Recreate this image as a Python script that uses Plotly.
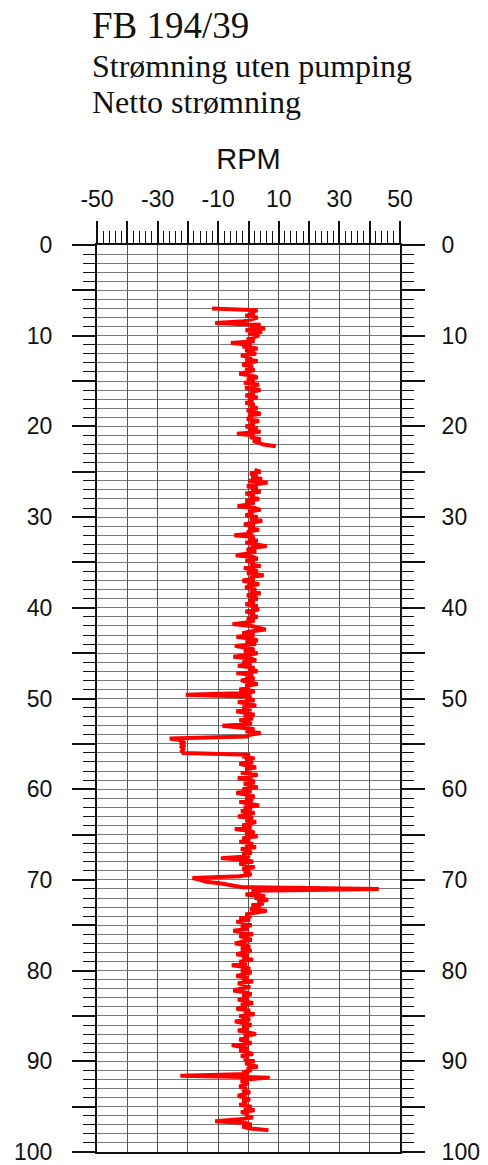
import numpy as np
import plotly.graph_objects as go

# ---------------- data ----------------
title_lines = ["FB 194/39", "Strømning uten pumping", "Netto strømning"]
x_title = "RPM"
x_range = [-50, 50]
x_major_ticks = [-50, -40, -30, -20, -10, 0, 10, 20, 30, 40, 50]
x_label_values = [-50, -30, -10, 10, 30, 50]
depth_range = [100, 0]
depth_major_ticks = [0, 5, 10, 15, 20, 25, 30, 35, 40, 45, 50, 55, 60, 65, 70, 75, 80, 85, 90, 95, 100]
depth_label_values = [0, 10, 20, 30, 40, 50, 60, 70, 80, 90, 100]

sample_step = 0.2          # depth interval between readings (m)
seg1_start_depth = 7.0     # first logged interval
seg2_start_depth = 24.8    # second logged interval

rpm_seg1 = [
    -12, 3, 0.5, 2, -1, 3, 1, -1.5, -11, 4,
    0.5, 5.5, -1, 4.5, 0, 3.5, 1.5, -0.5, 2, -5.8,
    1, -2, 3, -1, 0.5, 2.5, -2.5, 1, -1, 3,
    -0.5, -2, 1.5, -1, 2, 0, -3, 1, 3, -0.5,
    2, -1.5, 3.5, 0, -1, 4, 0.5, 2, -1, 3,
    0, 1.5, -1, 2, 0.5, 3, -0.5, 1, 4, 0,
    1, -0.5, 3.5, 0.5, 2, -1, 3, 0, 4, -3.8,
    2, 0.5, 4, 1.5, 3, 5, 9,
]

rpm_seg2 = [
    2, 4, 0.5, 3, 1,            # 24.8
    4.5, 0, 6.3, 2, -0.5,       # 25.8
    3, 1, 4, -1, 2,             # 26.8
    0.5, 3.5, -1, 2, 0,         # 27.8
    -3.6, 2, 4, 0, 1.5,         # 28.8
    -1, 3, 0.5, 4.5, 1,         # 29.8
    -1.5, 2, 0, 3.5, -0.5,      # 30.8
    1.5, -4.7, 2, 0, 3,         # 31.8
    -1, 2, 6, 1, -0.5,          # 32.8
    2.5, 0, -4.2, 1.5, 3,       # 33.8
    -1, 2, 0.5, 4, -1.5,        # 34.8
    1, 3, -0.5, 5, 0.5,         # 35.8
    2, -2, 1, 3.5, 0,           # 36.8
    -1, 2.5, 0.5, 4, -0.5,      # 37.8
    1.5, 3, 0, 2, -1,           # 38.8
    3, 1, 3.5, -1, 2,           # 39.8
    0.5, 3, -0.5, 2, 0,         # 40.8
    -5.3, 1, 3, 5.7, 0.5,       # 41.8
    -2, 2, -4, 1, 3,            # 42.8
    -1, 2.5, -4.5, 0, 2,        # 43.8
    -1.5, 3, 0, -5, 1,          # 44.8
    2.5, -2, 1, -3.5, 2,        # 45.8
    0, 3, -4, 1.5, -1,          # 46.8
    2, -2.5, 1, 3, -1,          # 47.8
    0.5, -3, 2, 0, -20.7,       # 48.8
    1, -1, 2, -3.5, 0.5,        # 49.8
    2.5, -2, 1, -4, 0,          # 50.8
    2, -1.5, 1.5, -3, 0,        # 51.8
    1, -8.6, -3, 2, -1,         # 52.8
    4, 0.5, -0.5, -26, -22,     # 53.8
    -21.5, -22.5, -21, -22, -21.5,  # 54.8
    -22, -21.5, 0.5, -2, 2,     # 55.8
    -1, 1.5, -3, 0.5, 2.5,      # 56.8
    -1, 1, -2.5, 3, 0,          # 57.8
    -3.5, 1, 2, -1.5, 0.5,      # 58.8
    3, -2, 1, -4, 0,            # 59.8
    2, -1, 1.5, -3, 0.5,        # 60.8
    3.5, -1.5, 1, -2.5, 2,      # 61.8
    0, -3.5, 1.5, -1, 2.5,      # 62.8
    0, -2, 1, -4.5, 0.5,        # 63.8
    2, -1, 3, -2, 0.5,          # 64.8
    -3, 1.5, -1, 2.5, -2.5,     # 65.8
    0, 1, -2, 0.5, -9.1,        # 66.8
    -1, 1.5, -3, 0, 2,          # 67.8
    -2, 0.5, -1.5, 1, -3,       # 68.8
    -18.5, -16, -14, -9, -5,    # 69.8
    -2, 43, 1, 4, -1,           # 70.8
    5.5, 2, 6.5, 3, 5,          # 71.8
    1, 4, 0.5, 6, 2,            # 72.8
    -1, 1, -3, 0.5, -4,         # 73.8
    -1, 1, -2.5, 0, -5,         # 74.8
    -1.5, 1.5, -3, -0.5, 1,     # 75.8
    -2, -4.5, -1, 0.5, -2.5,    # 76.8
    1, -1.5, -4, 0, -2,         # 77.8
    1.5, -3, -0.5, -5.5, -1,    # 78.8
    0.5, -2.5, 1, -1.5, -4,     # 79.8
    0, -2, 1.5, -3.5, -1,       # 80.8
    0.5, -2.5, -5, -1, 1,       # 81.8
    -2, 0, -3.5, -1, 1.5,       # 82.8
    -2.5, -0.5, -4, 0.5, -1.5,  # 83.8
    2, -3, -1, 0.5, -4.5,       # 84.8
    -1, 1, -2, 0, -3.5,         # 85.8
    -0.5, 2.5, -1.5, 0, -3,     # 86.8
    -1, 1, -5.5, -2, 0,         # 87.8
    -3, -1, 1.5, -2.5, 0,       # 88.8
    -1.5, 2, -1, 0.5, 3,        # 89.8
    -0.5, 1, -2, 0, -22.5,      # 90.8
    7, -1, -2.5, 0, -1.5,       # 91.8
    -3, -0.5, -2, 0.5, -1,      # 92.8
    -3.5, -1, 0.5, -2, -0.5,    # 93.8
    -3, 1, -1.5, 2, -2.5,       # 94.8
    0, -1, 1.5, -3, -11,        # 95.8
    -1, 1, -2, 0.5, 6.6,        # 96.8
]

depth_seg1 = np.round(seg1_start_depth + sample_step * np.arange(len(rpm_seg1)), 2)
depth_seg2 = np.round(seg2_start_depth + sample_step * np.arange(len(rpm_seg2)), 2)

# ---------------- figure ----------------
W, H = 488, 1165
L, R, T, B = 97, 88, 245, 13

fig = go.Figure()
line_style = dict(color="#FF0000", width=4)
fig.add_trace(go.Scatter(x=rpm_seg1, y=depth_seg1, mode="lines", line=line_style,
                         showlegend=False, hoverinfo="x+y"))
fig.add_trace(go.Scatter(x=rpm_seg2, y=depth_seg2, mode="lines", line=line_style,
                         showlegend=False, hoverinfo="x+y"))
# invisible trace to carry the right-hand depth axis
fig.add_trace(go.Scatter(x=[None], y=[None], yaxis="y2", showlegend=False,
                         hoverinfo="skip"))

tick_font = dict(family="Liberation Sans, Arial, sans-serif", size=23, color="#111111")

x_ticktext = [str(v) if v in x_label_values else "" for v in x_major_ticks]
y_ticktext = [str(v) if v in depth_label_values else "" for v in depth_major_ticks]

yaxis_common = dict(
    range=depth_range,
    tickmode="array",
    tickvals=depth_major_ticks,
    ticktext=y_ticktext,
    ticks="outside",
    ticklen=23,
    tickwidth=1.6,
    tickcolor="#111111",
    showline=True,
    linecolor="#111111",
    linewidth=2,
    tickfont=tick_font,
    ticklabeloverflow="allow",
    zeroline=False,
    automargin=False,
    fixedrange=True,
)

fig.update_layout(
    width=W,
    height=H,
    margin=dict(l=L, r=R, t=T, b=B, pad=0),
    paper_bgcolor="white",
    plot_bgcolor="white",
    xaxis=dict(
        side="top",
        range=x_range,
        tickmode="array",
        tickvals=x_major_ticks,
        ticktext=x_ticktext,
        ticks="outside",
        ticklen=22,
        tickwidth=1.6,
        tickcolor="#111111",
        ticklabelstandoff=5,
        minor=dict(dtick=2, tick0=-50, ticks="outside", ticklen=12,
                   tickwidth=1.3, tickcolor="#111111", showgrid=False),
        showgrid=True,
        gridcolor="#555555",
        gridwidth=1,
        showline=True,
        mirror=True,
        linecolor="#111111",
        linewidth=2,
        zeroline=False,
        tickfont=tick_font,
        ticklabeloverflow="allow",
        title=dict(text=x_title, standoff=8,
                   font=dict(family="Liberation Sans, Arial, sans-serif", size=29,
                             color="#111111")),
        automargin=False,
        fixedrange=True,
    ),
    yaxis=dict(
        side="left",
        ticklabelstandoff=15,
        showgrid=True,
        gridcolor="#7a7a7a",
        gridwidth=1,
        minor=dict(dtick=1, tick0=0, ticks="outside", ticklen=12,
                   tickwidth=1.3, tickcolor="#111111", showgrid=True,
                   gridcolor="#7a7a7a", gridwidth=1),
        **yaxis_common,
    ),
    yaxis2=dict(
        side="right",
        overlaying="y",
        ticklabelstandoff=12,
        showgrid=False,
        minor=dict(dtick=1, tick0=0, ticks="outside", ticklen=12,
                   tickwidth=1.3, tickcolor="#111111", showgrid=False),
        **yaxis_common,
    ),
)

# title block (Times-like serif), positioned in paper coords
plot_h = H - T - B
plot_w = W - L - R

def px_to_paper_y(py):
    return (H - B - py) / plot_h

def px_to_paper_x(px):
    return (px - L) / plot_w

title_specs = [(title_lines[0], 37, 26), (title_lines[1], 32, 66), (title_lines[2], 32, 102)]
for text, size, cy in title_specs:
    fig.add_annotation(
        text=text, xref="paper", yref="paper",
        x=px_to_paper_x(90), y=px_to_paper_y(cy),
        xanchor="left", yanchor="middle", showarrow=False,
        font=dict(family="Liberation Serif, Times New Roman, serif", size=size, color="#111111"),
    )

fig.write_html(
    "out.html",
    config={"displayModeBar": False},
    post_script="document.body.style.margin='0';document.body.style.padding='0';",
)
